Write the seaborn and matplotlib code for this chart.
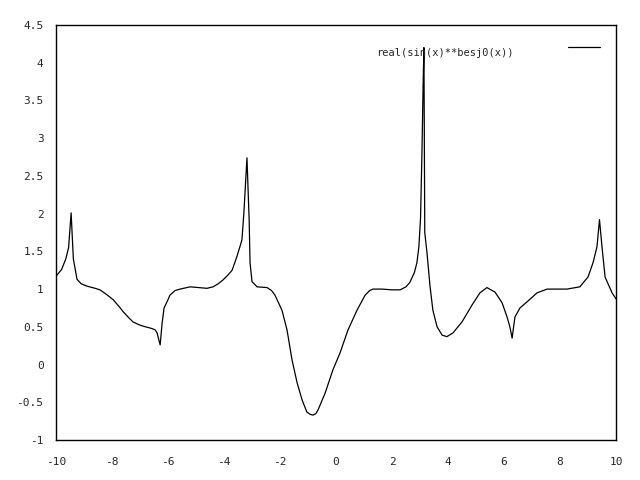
import numpy as np
import matplotlib
matplotlib.use("Agg")
import matplotlib.pyplot as plt
import seaborn as sns

# points
x_vals = [-10.0, -9.8, -9.65, -9.55, -9.46, -9.38, -9.25, -9.1, -8.9, -8.6,
          -8.43, -8.2, -7.96, -7.75, -7.6, -7.4, -7.25, -7.05, -6.9, -6.6,
          -6.46, -6.39, -6.28, -6.21, -6.14, -6.0, -5.93, -5.75, -5.57, -5.21,
          -4.9, -4.61, -4.39, -4.21, -4.04, -3.85, -3.71, -3.54, -3.36, -3.29,
          -3.18, -3.10, -3.07, -3.0, -2.82, -2.46, -2.3, -2.18, -1.93, -1.75,
          -1.57, -1.39, -1.21, -1.04, -0.92, -0.82, -0.72, -0.64, -0.39, -0.11,
          0.14, 0.43, 0.75, 1.04, 1.2, 1.32, 1.64, 2.0, 2.29, 2.5,
          2.64, 2.8, 2.89, 2.96, 3.02, 3.07, 3.11, 3.14, 3.17, 3.25,
          3.36, 3.46, 3.61, 3.79, 3.96, 4.18, 4.5, 4.86, 5.14, 5.39,
          5.68, 5.93, 6.11, 6.21, 6.29, 6.39, 6.57, 6.82, 7.18, 7.54,
          8.25, 8.71, 9.0, 9.18, 9.32, 9.41, 9.5, 9.61, 9.86, 10.0]
y_vals = [1.17, 1.26, 1.40, 1.55, 2.01, 1.40, 1.13, 1.07, 1.04, 1.01,
          0.99, 0.93, 0.86, 0.77, 0.70, 0.62, 0.565, 0.53, 0.51, 0.48,
          0.46, 0.42, 0.26, 0.55, 0.75, 0.86, 0.92, 0.98, 1.00, 1.03,
          1.02, 1.01, 1.03, 1.07, 1.12, 1.19, 1.25, 1.43, 1.65, 2.01,
          2.74, 1.90, 1.35, 1.10, 1.03, 1.02, 0.98, 0.92, 0.72, 0.46,
          0.06, -0.24, -0.47, -0.63, -0.66, -0.67, -0.65, -0.60, -0.38, -0.07,
          0.15, 0.46, 0.72, 0.92, 0.98, 1.00, 1.00, 0.99, 0.99, 1.03,
          1.09, 1.22, 1.35, 1.56, 1.95, 2.81, 3.68, 4.2, 1.75, 1.48,
          1.03, 0.72, 0.50, 0.39, 0.37, 0.42, 0.565, 0.79, 0.95, 1.02,
          0.96, 0.82, 0.63, 0.50, 0.35, 0.63, 0.75, 0.83, 0.95, 1.00,
          1.00, 1.03, 1.16, 1.35, 1.56, 1.92, 1.56, 1.16, 0.95, 0.87]

x_ticks = [-10, -8, -6, -4, -2, 0, 2, 4, 6, 8, 10]
y_ticks = [-1, -0.5, 0, 0.5, 1, 1.5, 2, 2.5, 3, 3.5, 4, 4.5]
y_labels = ["-1", "-0.5", "0", "0.5", "1", "1.5", "2", "2.5", "3", "3.5", "4", "4.5"]
title = "real(sin(x)**besj0(x))"

sns.set_style("white")
plt.rcParams["font.family"] = ["DejaVu Sans Mono"]

fig = plt.figure(figsize=(6.4, 4.8), dpi=100)
ax = fig.add_axes([56 / 640, 40 / 480, 560 / 640, 415 / 480])

sns.lineplot(x=x_vals, y=y_vals, ax=ax, color="black", linewidth=0.9,
             estimator=None, sort=False)

ax.set_xlim(-10, 10)
ax.set_ylim(-1, 4.5)
ax.set_xticks(x_ticks)
ax.set_xticklabels([str(t) for t in x_ticks])
ax.set_yticks(y_ticks)
ax.set_yticklabels(y_labels)
ax.tick_params(direction="in", length=8, width=1, labelsize=8, color="black")
ax.tick_params(axis="x", pad=12)
ax.tick_params(axis="y", pad=9)
for s in ax.spines.values():
    s.set_color("black")
    s.set_linewidth(1)

# gnuplot style key in the top right corner
ax.text(0.817, 0.933, title, transform=ax.transAxes, fontsize=7.5,
        ha="right", va="center")
ax.plot([0.914, 0.971], [0.948, 0.948], transform=ax.transAxes,
        color="black", linewidth=0.9)

fig.savefig("out.png", dpi=100)
